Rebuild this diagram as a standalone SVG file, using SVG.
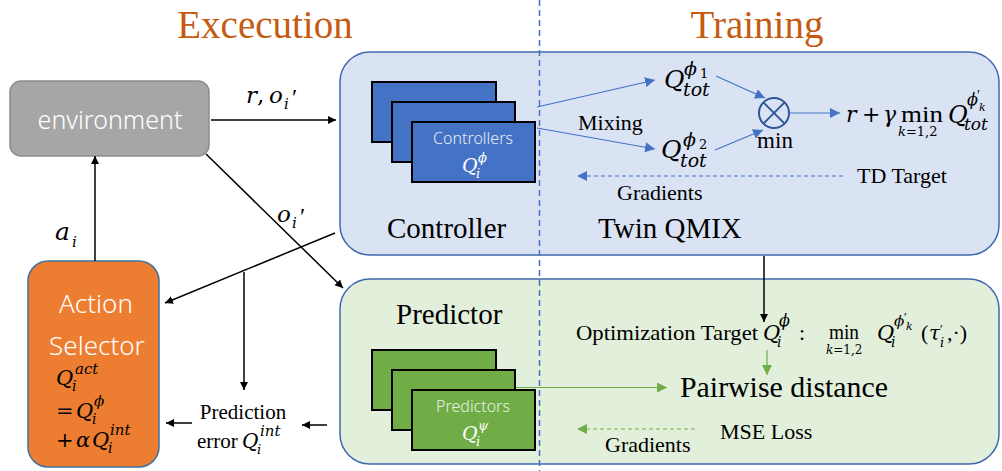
<svg xmlns="http://www.w3.org/2000/svg" width="1002" height="471" viewBox="0 0 1002 471">
<style>
.serif{font-family:"Liberation Serif","Times New Roman",serif;fill:#000}
.math{font-family:"DejaVu Serif","Liberation Serif",serif;font-style:italic;fill:#000}
.up{font-family:"DejaVu Serif","Liberation Serif",serif;font-style:normal}
.pr{font-family:"Liberation Serif","Times New Roman",serif;font-style:normal}
.sans{font-family:"Noto Sans","Liberation Sans",sans-serif;fill:#fff}
.title{font-family:"Liberation Serif","Times New Roman",serif;fill:#C55A11;font-size:39px}
.blk{stroke:#000;stroke-width:1.5;fill:none}
.blu{stroke:#4472C4;stroke-width:1.2;fill:none}
.grn{stroke:#70AD47;stroke-width:1.2;fill:none}
.ctl{fill:#4472C4;stroke:#000;stroke-width:2}
.prd{fill:#70AD47;stroke:#000;stroke-width:2}
</style>
<defs>
<marker id="ab" viewBox="0 0 10 10" refX="10" refY="5" markerWidth="8" markerHeight="8" markerUnits="userSpaceOnUse" orient="auto"><path d="M0,0 L10,5 L0,10 z" fill="#000"/></marker>
<marker id="au" viewBox="0 0 10 10" refX="10" refY="5" markerWidth="10" markerHeight="10" markerUnits="userSpaceOnUse" orient="auto"><path d="M0,0 L10,5 L0,10 z" fill="#4472C4"/></marker>
<marker id="ag" viewBox="0 0 10 10" refX="10" refY="5" markerWidth="10" markerHeight="10" markerUnits="userSpaceOnUse" orient="auto"><path d="M0,0 L10,5 L0,10 z" fill="#70AD47"/></marker>
</defs>

<text class="title" x="265" y="38" text-anchor="middle">Excecution</text>
<text class="title" x="757" y="38" text-anchor="middle">Training</text>

<g id="controller-panel">
<rect x="340" y="52" width="659" height="203" rx="30" fill="#DAE3F3" stroke="#3F68B0" stroke-width="1.5"/>
<text class="serif" x="387" y="238" font-size="29">Controller</text>
<text class="serif" x="598" y="238" font-size="29">Twin QMIX</text>
</g>

<g id="predictor-panel">
<rect x="340" y="279" width="659" height="185" rx="30" fill="#E2EFDA" stroke="#3F68B0" stroke-width="1.5"/>
<text class="serif" x="396" y="324" font-size="29">Predictor</text>
</g>

<line x1="539.5" y1="0" x2="539.5" y2="471" stroke="#4472C4" stroke-width="1.5" stroke-dasharray="6,4"/>

<g id="environment">
<rect x="10" y="81" width="199" height="75" rx="11" fill="#A6A6A6" stroke="#8C8C8C" stroke-width="1.5"/>
<text class="sans" x="110" y="129" font-size="25" text-anchor="middle" font-weight="300">environment</text>
</g>

<g id="action-selector">
<rect x="28" y="261" width="131" height="206" rx="20" fill="#ED7D31" stroke="#41719C" stroke-width="1.5"/>
<text class="sans" x="96" y="313" font-size="26" text-anchor="middle" font-weight="300">Action</text>
<text class="sans" x="97" y="355" font-size="26" text-anchor="middle" font-weight="300">Selector</text>
<text class="math" x="56" y="385" font-size="21">Q<tspan font-size="14" x="72" y="391">i</tspan><tspan font-size="15" x="75" y="374">act</tspan></text>
<text class="math" x="56" y="418" font-size="21"><tspan class="up">=</tspan><tspan x="76">Q</tspan><tspan font-size="14" x="92" y="424">i</tspan><tspan font-size="15" x="94" y="406">ϕ</tspan></text>
<text class="math" x="56" y="447" font-size="21"><tspan class="up">+</tspan><tspan x="76">α</tspan><tspan x="92">Q</tspan><tspan font-size="14" x="108" y="453">i</tspan><tspan font-size="15" x="110" y="435">int</tspan></text>
</g>

<g id="controllers">
<rect class="ctl" x="372" y="82" width="124" height="60"/>
<rect class="ctl" x="392" y="102" width="123" height="60"/>
<rect class="ctl" x="412" y="122" width="123" height="60"/>
<text class="sans" x="473" y="144" font-size="16" text-anchor="middle" font-weight="300" style="fill:#E6ECF7">Controllers</text>
<text class="math" x="462" y="172" font-size="19" style="fill:#fff">Q<tspan font-size="13" x="476" y="178">i</tspan><tspan font-size="13" x="478" y="162">ϕ</tspan></text>
</g>

<g id="predictors">
<rect class="prd" x="372" y="350" width="124" height="60"/>
<rect class="prd" x="392" y="370" width="123" height="60"/>
<rect class="prd" x="412" y="390" width="123" height="60"/>
<text class="sans" x="473" y="412" font-size="16" text-anchor="middle" font-weight="300" style="fill:#E9F2E3">Predictors</text>
<text class="math" x="462" y="440" font-size="19" style="fill:#fff">Q<tspan font-size="13" x="476" y="446">i</tspan><tspan font-size="13" x="478" y="430">ψ</tspan></text>
</g>

<g id="mixing">
<text class="serif" x="578" y="130" font-size="22">Mixing</text>
<text class="math" x="664" y="88" font-size="25">Q<tspan font-size="19" x="683" y="96">tot</tspan><tspan font-size="19" x="684" y="75">ϕ</tspan><tspan class="up" font-size="13" x="700" y="78">1</tspan></text>
<text class="math" x="661" y="158" font-size="25">Q<tspan font-size="19" x="680" y="167">tot</tspan><tspan font-size="19" x="683" y="146">ϕ</tspan><tspan class="up" font-size="13" x="699" y="149">2</tspan></text>
</g>

<g id="min-node">
<circle cx="774" cy="113" r="15" fill="none" stroke="#2F5597" stroke-width="2"/>
<line x1="763.4" y1="102.4" x2="784.6" y2="123.6" stroke="#2F5597" stroke-width="2"/>
<line x1="784.6" y1="102.4" x2="763.4" y2="123.6" stroke="#2F5597" stroke-width="2"/>
<text class="serif" x="775" y="148" font-size="23" text-anchor="middle">min</text>
</g>

<g id="td-target">
<text class="math" x="846" y="122" font-size="22">r<tspan class="up" x="862">+</tspan><tspan x="883">γ</tspan><tspan class="pr" x="901" font-size="24" textLength="42" lengthAdjust="spacingAndGlyphs">min</tspan><tspan font-size="13" x="898" y="136">k</tspan><tspan class="up" font-size="13">=1,2</tspan><tspan font-size="24" x="948" y="123">Q</tspan><tspan font-size="17" x="964" y="130">tot</tspan><tspan font-size="16" x="967" y="105">ϕ</tspan><tspan class="pr" font-size="14" x="977" y="100">′</tspan><tspan font-size="11" x="979" y="111">k</tspan></text>
<text class="serif" x="857" y="183" font-size="22">TD Target</text>
<text class="serif" x="617" y="200" font-size="22">Gradients</text>
</g>

<g id="optimization">
<text class="serif" x="576" y="340" font-size="22" textLength="182" lengthAdjust="spacingAndGlyphs">Optimization Target</text>
<text class="math" x="763" y="340" font-size="21">Q<tspan font-size="14" x="777" y="347">i</tspan><tspan font-size="16" x="779" y="326">ϕ</tspan><tspan class="pr" font-size="22" x="799" y="340">:</tspan><tspan class="pr" x="829" y="339" textLength="30" lengthAdjust="spacingAndGlyphs">min</tspan><tspan font-size="12" x="826" y="354">k</tspan><tspan class="up" font-size="12">=1,2</tspan><tspan x="877" y="340">Q</tspan><tspan font-size="14" x="891" y="347">i</tspan><tspan font-size="15" x="894" y="326">ϕ</tspan><tspan class="pr" font-size="13" x="904" y="321">′</tspan><tspan font-size="11" x="906" y="330">k</tspan><tspan class="pr" font-size="22" x="921" y="340">(</tspan><tspan font-size="20" x="929">τ</tspan><tspan class="pr" font-size="13" x="940" y="333">′</tspan><tspan font-size="13" x="940" y="347">i</tspan><tspan class="pr" font-size="22" x="947" y="340">,·)</tspan></text>
<text class="serif" x="680" y="397" font-size="30" textLength="208" lengthAdjust="spacingAndGlyphs">Pairwise distance</text>
<text class="serif" x="720" y="439" font-size="22">MSE Loss</text>
<text class="serif" x="605" y="452" font-size="22">Gradients</text>
</g>

<g id="prediction-error">
<text class="serif" x="243" y="419" font-size="21" text-anchor="middle">Prediction</text>
<text class="serif" x="197" y="448" font-size="21">error<tspan class="math" font-size="20" x="242">Q</tspan><tspan class="math" font-size="13" x="257" y="454">i</tspan><tspan class="math" font-size="15" x="260" y="436">int</tspan></text>
</g>

<g id="edge-labels">
<text class="math" x="246" y="103" font-size="23">r<tspan class="up">,</tspan><tspan x="269">o</tspan><tspan font-size="15" x="284" y="109">i</tspan><tspan class="pr" font-size="24" x="292" y="105">′</tspan></text>
<text class="math" x="277" y="222" font-size="23">o<tspan font-size="15" x="292" y="228">i</tspan><tspan class="pr" font-size="24" x="300" y="224">′</tspan></text>
<text class="math" x="55" y="240" font-size="25">a<tspan font-size="15" x="72" y="247">i</tspan></text>
</g>

<g id="connectors">
<line class="blk" x1="211" y1="120" x2="336" y2="120" marker-end="url(#ab)"/>
<line class="blk" x1="95" y1="261" x2="95" y2="156" marker-end="url(#ab)"/>
<line class="blk" x1="206" y1="154" x2="343" y2="288" marker-end="url(#ab)"/>
<line class="blk" x1="335" y1="233" x2="165" y2="303" marker-end="url(#ab)"/>
<line class="blk" x1="244" y1="272" x2="244" y2="390" marker-end="url(#ab)"/>
<line class="blk" x1="192" y1="423" x2="166" y2="423" marker-end="url(#ab)"/>
<line class="blk" x1="327" y1="425" x2="302" y2="425" marker-end="url(#ab)"/>
<line class="blk" x1="764" y1="256" x2="764" y2="322" marker-end="url(#ab)"/>
<line class="blu" x1="537" y1="107" x2="655" y2="80" marker-end="url(#au)"/>
<line class="blu" x1="537" y1="128" x2="655" y2="149" marker-end="url(#au)"/>
<line class="blu" x1="716" y1="76" x2="765" y2="98" marker-end="url(#au)"/>
<line class="blu" x1="715" y1="150" x2="763" y2="130" marker-end="url(#au)"/>
<line class="blu" x1="789" y1="113" x2="840" y2="113" marker-end="url(#au)"/>
<line class="blu" x1="843" y1="176" x2="577" y2="176" stroke-dasharray="4,3" marker-end="url(#au)"/>
<line class="grn" x1="767" y1="350" x2="767" y2="375" marker-end="url(#ag)"/>
<line class="grn" x1="516" y1="387.5" x2="667" y2="387.5" marker-end="url(#ag)"/>
<line class="grn" x1="695" y1="429" x2="577" y2="429" stroke-dasharray="4,3" marker-end="url(#ag)"/>
</g>
</svg>
